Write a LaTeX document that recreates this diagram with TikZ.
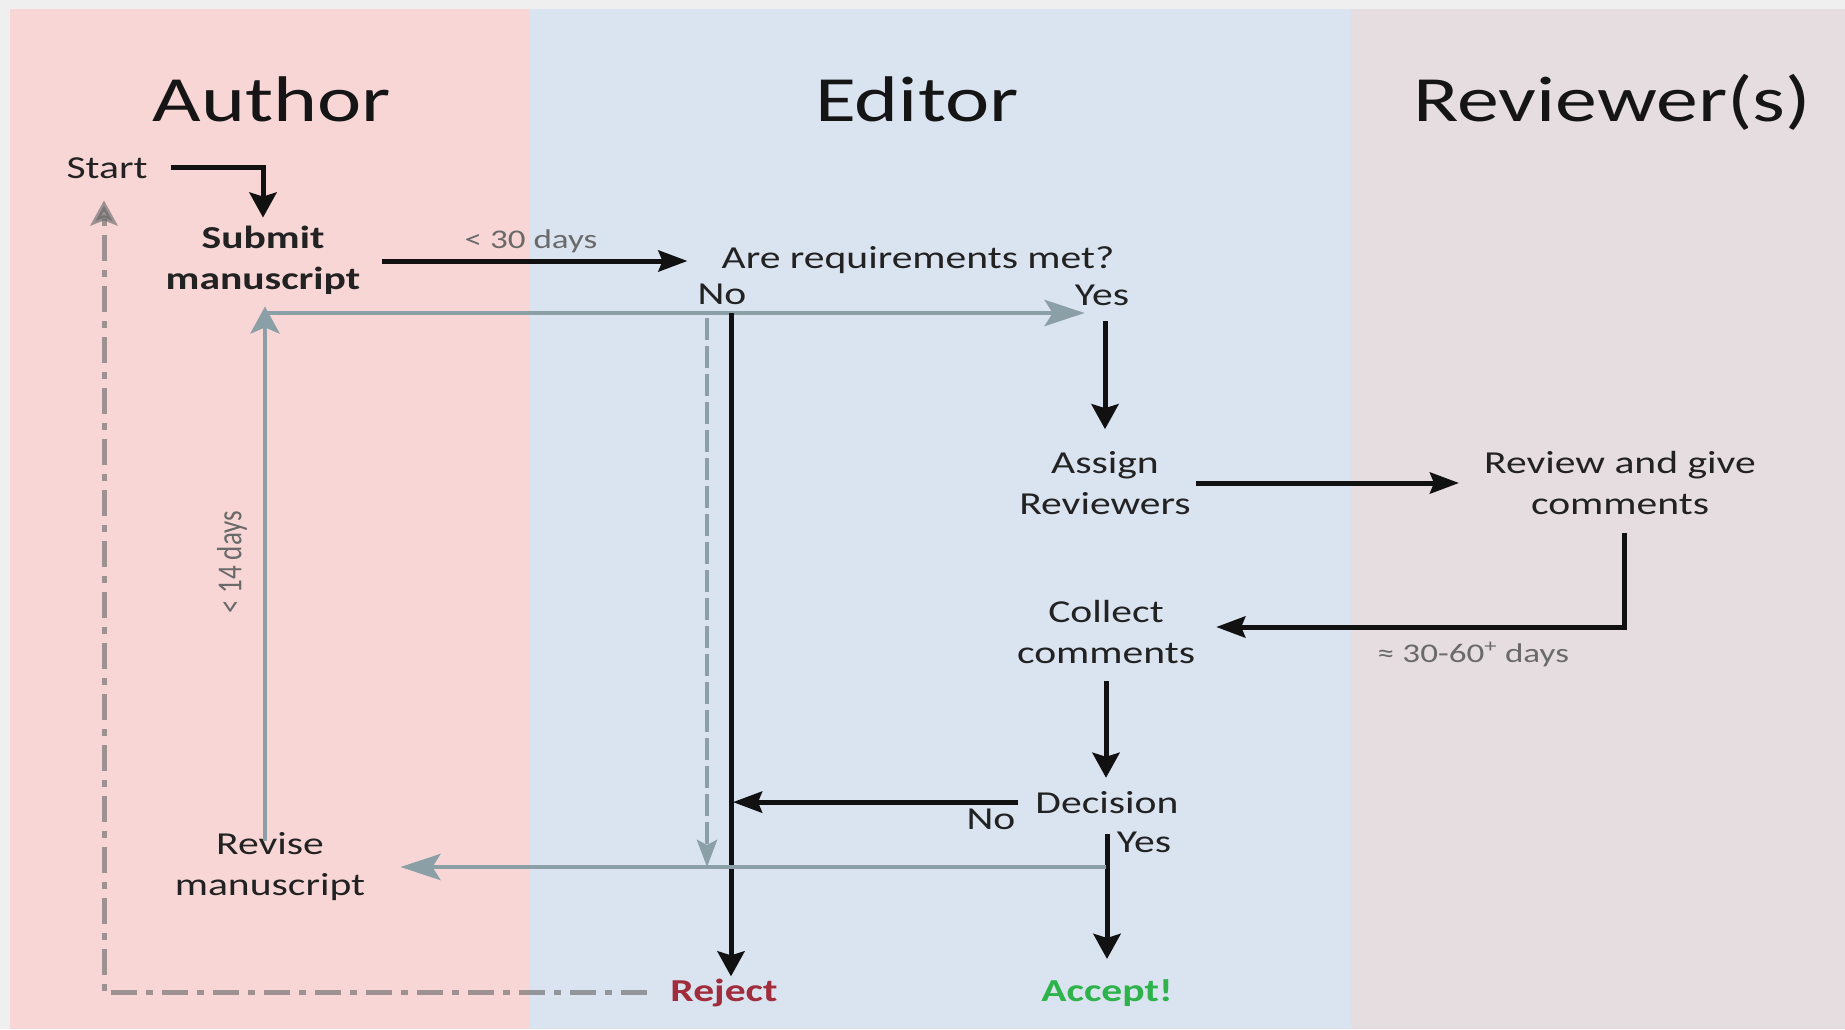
\documentclass[tikz,border=0pt]{standalone}
\usepackage{fontspec}
\usepackage{graphicx}
\setmainfont{Carlito}[FakeStretch=1.3]
\newfontfamily\plainfont{Carlito}
\usetikzlibrary{arrows.meta}
\definecolor{bgc}{HTML}{EFEFEF}
\definecolor{pinkl}{HTML}{F8D6D6}
\definecolor{bluel}{HTML}{DAE3F0}
\definecolor{revl}{HTML}{E6DDE1}
\definecolor{txtc}{HTML}{222222}
\definecolor{ttlc}{HTML}{151515}
\definecolor{lblc}{HTML}{6A6A6A}
\definecolor{arrc}{HTML}{111111}
\definecolor{grya}{HTML}{8AA0A6}
\definecolor{ddc}{HTML}{636363}
\definecolor{rejc}{HTML}{A02C3C}
\definecolor{accc}{HTML}{2DB34A}
\begin{document}
\begin{tikzpicture}[x=1pt,y=-1pt,
  txt/.style={inner sep=0pt, text=txtc, font=\fontsize{32}{41}\selectfont},
  txtb/.style={inner sep=0pt, text=txtc, font=\fontsize{32}{41}\selectfont\bfseries},
  ttl/.style={inner sep=0pt, text=ttlc, font=\fontsize{64.5}{70}\selectfont, anchor=base},
  lbl/.style={inner sep=0pt, text=lblc, font=\fontsize{27}{32}\selectfont},
  blkv/.style={draw=arrc, line width=5pt, -{Stealth[length=25pt,width=27pt,inset=4pt]}},
  blkh/.style={draw=arrc, line width=5pt, -{Stealth[length=29pt,width=21pt,inset=4pt]}},
  gryv/.style={draw=grya, line width=4.6pt, -{Stealth[length=27pt,width=29pt,inset=6pt]}},
  gryh/.style={draw=grya, line width=4.6pt, -{Stealth[length=40pt,width=26pt,inset=8pt]}},
  grydash/.style={draw=grya, line width=4.6pt, dash pattern=on 22pt off 6pt, -{Stealth[length=27pt,width=20pt,inset=5pt]}},
  ddline/.style={draw=ddc, opacity=0.6, line width=5pt, dash pattern=on 26pt off 9pt on 7pt off 9pt, -{Stealth[length=25pt,width=27pt,inset=5pt]}},
]
\useasboundingbox (0,0) rectangle (1845,1029);
% lanes
\fill[bgc] (0,0) rectangle (1845,1029);
\fill[pinkl] (10,9) rectangle (530,1029);
\fill[bluel] (530,9) rectangle (1351,1029);
\fill[revl] (1351,9) rectangle (1845,1029);

% titles
\node[ttl] (tauthor) at (272,121) {Author};
\node[ttl] (teditor) at (917,121) {Editor};
\node[ttl] (trev) at (1612,121) {Reviewer(s)};

% texts
\node[txt, anchor=base] (start) at (107,178) {Start};
\node[txtb, align=center] (submit) at (263,260) {Submit\\manuscript};
\node[lbl, anchor=base] (l30) at (531,248) {< 30 days};
\node[txt, anchor=base] (req) at (918,268) {Are requirements met?};
\node[txt, anchor=base] (no1) at (722,304) {No};
\node[txt, anchor=base] (yes1) at (1102,305) {Yes};
\node[txt, align=center] (assign) at (1105,483) {Assign\\Reviewers};
\node[txt, align=center] (review) at (1620,483) {Review and give\\comments};
\node[txt, align=center] (collect) at (1106,632) {Collect\\comments};
\node[lbl, anchor=base] (l3060) at (1473,662) {≈ 30-60\textsuperscript{+} days};
\node[txt, anchor=base] (decision) at (1107,813) {Decision};
\node[txt, anchor=base] (no2) at (991,829) {No};
\node[txt, anchor=base] (yes2) at (1144,852) {Yes};
\node[txt, align=center] (revise) at (270,867) {Revise\\manuscript};
\node[txtb, text=rejc, anchor=base] (reject) at (724,1001) {Reject};
\node[txtb, text=accc, anchor=base] (accept) at (1107,1001) {Accept!};
\node[lbl, rotate=90] (l14) at (232,562) {\plainfont\scalebox{1}[1.3]{< 14 days}};

% junction coordinates
\coordinate (jt) at (265,313);
\coordinate (vx) at (731,313);
\coordinate (dx) at (707,318);
\coordinate (jb) at (1106,867);

% connectors
\draw[blkv, shorten <=23pt, shorten >=8pt] (start.east) -| (submit.north);
\draw[blkh, shorten <=21pt, shorten >=34pt] ([yshift=-1pt]submit.east) -- ([yshift=-1pt]submit.east -| req.west);
\draw[gryv, shorten <=-8pt, shorten >=12pt] (revise.north -| jt) -- (submit.south -| jt);
\draw[gryh] (jt) -- ([xshift=10pt]yes1.west |- jt);
\draw[blkv, shorten >=2pt] (vx) -- (vx |- reject.north);
\draw[grydash] (dx) -- (dx |- jb);
\draw[blkv, shorten <=16pt, shorten >=22pt] (yes1.south -| assign.north) -- (assign.north);
\draw[blkh, shorten <=5pt, shorten >=25pt] (assign.east) -- (assign.east -| review.west);
\draw[blkh, shorten <=18pt, shorten >=21pt] ([xshift=4pt]review.south) |- ([yshift=5pt]collect.east);
\draw[blkv, shorten <=17pt, shorten >=13pt] (collect.south) -- (collect.south |- decision.north);
\draw[blkh, shorten <=17pt, shorten >=2pt] (decision.west) -- (decision.west -| vx);
\draw[blkv, shorten <=21pt, shorten >=20pt] (decision.south) -- (decision.south |- accept.north);
\draw[gryh, shorten >=35pt] (jb) -- (jb -| revise.east);
\draw[ddline, shorten <=23pt, shorten >=22pt] (reject.west) -| ([xshift=-3pt]start.south);
\end{tikzpicture}
\end{document}
